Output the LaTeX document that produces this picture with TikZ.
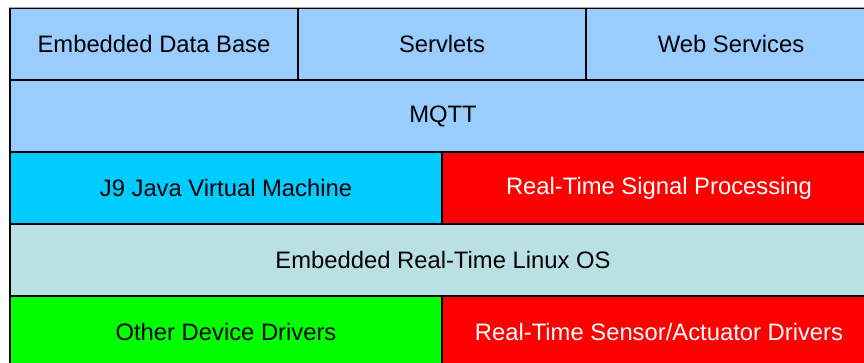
\documentclass[tikz,border=0pt]{standalone}
\usepackage{fontspec}
\setmainfont{Liberation Sans}
\begin{document}
\begin{tikzpicture}[x=1pt,y=1pt,
  layer/.style={draw=black,line width=1.3pt,inner sep=0pt,font=\fontsize{23.8}{26}\selectfont,text=black}]
\definecolor{lblue}{HTML}{99CCFF}
\definecolor{jcyan}{HTML}{00CCFF}
\definecolor{rred}{HTML}{FF0000}
\definecolor{lteal}{HTML}{B9E0E2}
\definecolor{lgreen}{HTML}{00FF00}
\useasboundingbox (0,0) rectangle (864,362);
\clip (0,0) rectangle (864,362);
\fill[white] (0,0) rectangle (864,362);
% row 1 (y 8..80)
\node[layer,fill=lblue,minimum width=288,minimum height=72] (edb) at (154,318) {Embedded Data Base};
\node[layer,fill=lblue,minimum width=288,minimum height=72] (srv) at (442,318) {Servlets};
\node[layer,fill=lblue,minimum width=290,minimum height=72] (ws) at (731,318) {Web Services};
% row 2 (80..152)
\node[layer,fill=lblue,minimum width=866,minimum height=72] (mqtt) at (443,246) {MQTT};
% row 3 (152..224)
\node[layer,fill=jcyan,minimum width=432,minimum height=72] (jvm) at (226,174) {J9 Java Virtual Machine};
\node[layer,fill=rred,text=white,minimum width=434,minimum height=72] (rtsp) at (659,174) {Real-Time Signal Processing};
% row 4 (224..296)
\node[layer,fill=lteal,minimum width=866,minimum height=72] (os) at (443,102) {Embedded Real-Time Linux OS};
% row 5 (296..368)
\node[layer,fill=lgreen,minimum width=432,minimum height=72] (odd) at (226,30) {Other Device Drivers};
\node[layer,fill=rred,text=white,minimum width=434,minimum height=72] (rtsd) at (659,30) {Real-Time Sensor/Actuator Drivers};
% top shadow line
\draw[gray!70,line width=1pt] (edb.north west) -- (ws.north east);
\end{tikzpicture}
\end{document}
